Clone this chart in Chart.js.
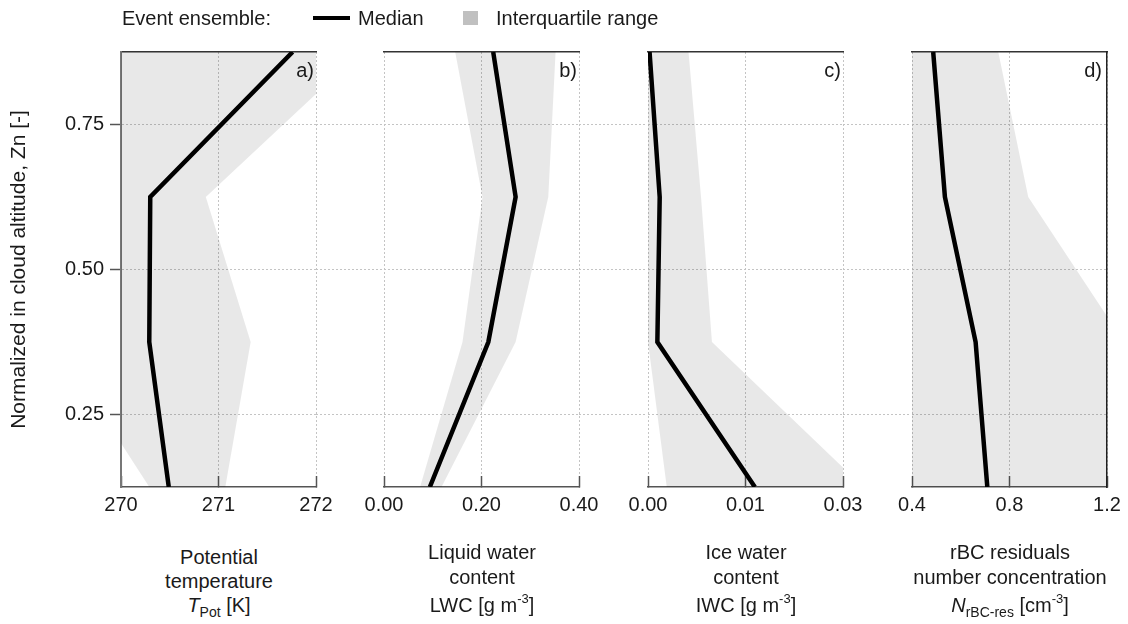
<!DOCTYPE html>
<html>
<head>
<meta charset="utf-8">
<script src="https://cdn.jsdelivr.net/npm/chart.js@4.4.1/dist/chart.umd.min.js"></script>
<style>
  body { margin: 0; width: 1128px; height: 624px; background: #fff; position: relative; overflow: hidden;
         font-family: "Liberation Sans", Arial, sans-serif; color: #1a1a1a; }
  canvas { position: absolute; top: 0; }
  .lbl { position: absolute; font-size: 20px; line-height: 24px; white-space: nowrap; }
  .ttl { position: absolute; font-size: 20px; line-height: 24px; white-space: nowrap; transform: translateX(-50%); }
  .sub { font-size: 14px; position: relative; top: 5px; }
  .sup { font-size: 13px; position: relative; top: -9px; }
</style>
</head>
<body>
<canvas id="ca" width="384" height="540" style="left:0px"></canvas>
<canvas id="cb" width="303" height="540" style="left:344px"></canvas>
<canvas id="cc" width="303" height="540" style="left:608px"></canvas>
<canvas id="cd" width="275" height="540" style="left:872px"></canvas>

<div class="lbl" style="left:122px;top:6px">Event ensemble:</div>
<div style="position:absolute;left:313px;top:16px;width:37px;height:4px;background:#000"></div>
<div class="lbl" style="left:358px;top:6px">Median</div>
<div style="position:absolute;left:463px;top:11px;width:15px;height:14px;background:#c0c0c0"></div>
<div class="lbl" style="left:496px;top:6px">Interquartile range</div>

<div class="lbl" style="left:274px;top:58px;width:40px;text-align:right">a)</div>
<div class="lbl" style="left:537px;top:58px;width:40px;text-align:right">b)</div>
<div class="lbl" style="left:801px;top:58px;width:40px;text-align:right">c)</div>
<div class="lbl" style="left:1062px;top:58px;width:40px;text-align:right">d)</div>

<div class="ttl" style="left:219px;top:545px">Potential</div>
<div class="ttl" style="left:219px;top:569px">temperature</div>
<div class="ttl" style="left:219px;top:593px"><i>T</i><span class="sub">Pot</span> [K]</div>

<div class="ttl" style="left:482px;top:540px">Liquid water</div>
<div class="ttl" style="left:482px;top:565px">content</div>
<div class="ttl" style="left:482px;top:593px">LWC [g m<span class="sup">-3</span>]</div>

<div class="ttl" style="left:746px;top:540px">Ice water</div>
<div class="ttl" style="left:746px;top:565px">content</div>
<div class="ttl" style="left:746px;top:593px">IWC [g m<span class="sup">-3</span>]</div>

<div class="ttl" style="left:1010px;top:540px">rBC residuals</div>
<div class="ttl" style="left:1010px;top:565px">number concentration</div>
<div class="ttl" style="left:1010px;top:593px"><i>N</i><span class="sub">rBC-res</span> [cm<span class="sup">-3</span>]</div>

<script>
const zn = [0.125, 0.375, 0.625, 0.875];
const yTicks = [0.25, 0.5, 0.75];

const tpotMedian = [270.49, 270.29, 270.30, 271.76];
const tpotQ25 = [270.29, 269.33, 269.50, 269.70];
const tpotQ75 = [271.07, 271.33, 270.87, 272.46];
const tpotTicks = [270, 271, 272];

const lwcMedian = [0.094, 0.214, 0.270, 0.224];
const lwcQ25 = [0.074, 0.161, 0.202, 0.146];
const lwcQ75 = [0.118, 0.270, 0.337, 0.352];
const lwcTicks = [0, 0.2, 0.4];

const iwcMedian = [0.0137, 0.0012, 0.0015, 0.0002];
const iwcQ25 = [0.0024, 0.0000, 0.0000, 0.0000];
const iwcQ75 = [0.0276, 0.0082, 0.0068, 0.0052];
const iwcTicks = [0, 0.0125, 0.025];

const rbcMedian = [0.709, 0.661, 0.535, 0.487];
const rbcQ25 = [0.30, 0.28, 0.25, 0.22];
const rbcQ75 = [1.42, 1.27, 0.877, 0.754];
const rbcTicks = [0.4, 0.8, 1.2];

const textColor = '#1a1a1a';
const gridColor = '#c4c4c4';
const axisColor = '#555';
const fillColor = 'rgba(0, 0, 0, 0.09)';

Chart.defaults.font.family = "'Liberation Sans', Arial, sans-serif";

const pts = xs => xs.map((x, i) => ({x: x, y: zn[i]}));

// dotted y grid continues through the gap to the next panel
const gapGrid = {
  id: 'gapGrid',
  beforeDatasetsDraw(chart, args, opts) {
    if (!opts.width) return;
    const {ctx, chartArea, scales} = chart;
    ctx.save();
    ctx.strokeStyle = gridColor;
    ctx.lineWidth = 1;
    ctx.setLineDash([2, 2]);
    scales.y.ticks.forEach(t => {
      const y = Math.floor(scales.y.getPixelForValue(t.value)) + 0.5;
      ctx.beginPath();
      ctx.moveTo(chartArea.right, y);
      ctx.lineTo(chartArea.right + opts.width, y);
      ctx.stroke();
    });
    ctx.restore();
  }
};

function panel(id, p) {
  const first = !!p.first;
  const scales = {
    x: {
      type: 'linear', position: 'bottom', min: p.ticks[0], max: p.ticks[p.ticks.length - 1],
      afterBuildTicks: s => { s.ticks = p.ticks.map(v => ({value: v})); },
      afterFit: s => { s.height = 53; },
      ticks: { padding: 17, font: {size: 20}, color: textColor, maxRotation: 0, autoSkip: false, callback: p.fmt },
      grid: { color: gridColor, tickLength: -11, tickColor: axisColor, tickWidth: 1.5, tickBorderDash: [] },
      border: { color: axisColor, width: 1.5, dash: [2, 2] }
    },
    xt: {
      type: 'linear', position: 'top', display: true,
      afterFit: s => { s.height = 0; },
      grid: { display: false }, ticks: { display: false },
      border: { color: '#333', width: 1.5 }
    },
    y: {
      type: 'linear', position: 'left', min: 0.125, max: 0.875,
      afterBuildTicks: s => { s.ticks = yTicks.map(v => ({value: v})); },
      afterFit: s => { s.width = first ? 121 : 0; },
      ticks: { display: first, padding: 6, font: {size: 20}, color: textColor, callback: v => v.toFixed(2) },
      grid: { color: gridColor, drawTicks: first, tickLength: 11, tickColor: axisColor, tickWidth: 1.5, tickBorderDash: [] },
      border: { display: first, color: '#777', width: 2, dash: [2, 2] },
      title: { display: first, text: 'Normalized in cloud altitude, Zn [-]', font: {size: 21}, color: textColor, padding: {top: 7} }
    }
  };
  if (p.last) {
    scales.yr = {
      type: 'linear', position: 'right', display: true,
      afterFit: s => { s.width = 0; },
      grid: { display: false }, ticks: { display: false },
      border: { color: '#222', width: 1.5 }
    };
  }
  return new Chart(document.getElementById(id), {
    type: 'line',
    data: {
      datasets: [
        { label: 'Median', data: pts(p.med), xAxisID: 'x', yAxisID: 'y', borderColor: '#000', borderWidth: 4.5,
          pointRadius: 0, fill: false, order: 0 },
        { label: 'Q75', data: pts(p.q75), xAxisID: 'x', yAxisID: 'y', borderWidth: 0, borderColor: 'rgba(0,0,0,0)',
          pointRadius: 0, backgroundColor: fillColor, fill: '+1', order: 1 },
        { label: 'Q25', data: pts(p.q25), xAxisID: 'x', yAxisID: 'y', borderWidth: 0, borderColor: 'rgba(0,0,0,0)',
          pointRadius: 0, fill: false, order: 2 }
      ]
    },
    options: {
      indexAxis: 'y',
      responsive: false,
      animation: false,
      events: [],
      layout: { padding: { top: 52, bottom: 0, left: p.padL, right: p.padR } },
      plugins: { legend: { display: false }, tooltip: { enabled: false }, gapGrid: { width: p.gap } },
      scales: scales
    },
    plugins: [gapGrid]
  });
}

panel('ca', { med: tpotMedian, q25: tpotQ25, q75: tpotQ75, ticks: tpotTicks, fmt: v => String(v),
  first: true, padL: 0, padR: 68, gap: 68 });
panel('cb', { med: lwcMedian, q25: lwcQ25, q75: lwcQ75, ticks: lwcTicks, fmt: v => v.toFixed(2),
  padL: 40, padR: 68, gap: 69 });
panel('cc', { med: iwcMedian, q25: iwcQ25, q75: iwcQ75, ticks: iwcTicks, fmt: v => v.toFixed(2),
  padL: 40, padR: 68, gap: 69 });
panel('cd', { med: rbcMedian, q25: rbcQ25, q75: rbcQ75, ticks: rbcTicks, fmt: v => v.toFixed(1),
  last: true, padL: 40, padR: 40, gap: 0 });
</script>
</body>
</html>
